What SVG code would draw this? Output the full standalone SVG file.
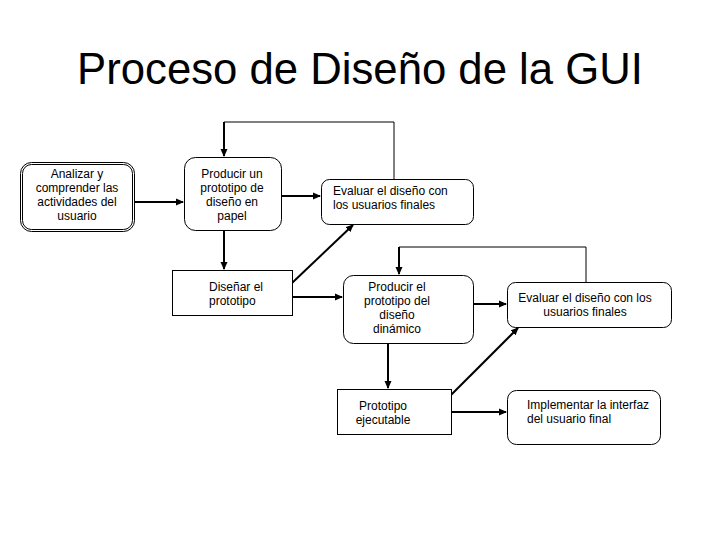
<svg xmlns="http://www.w3.org/2000/svg" width="720" height="540" viewBox="0 0 720 540">
<defs>
<style>
.box{fill:#fff;stroke:#000;stroke-width:1}
.t{font-family:"Liberation Sans",Arial,sans-serif;font-size:12px;fill:#000}
.c{text-anchor:middle}
.title{font-family:"Liberation Sans",Arial,sans-serif;font-size:43.7px;fill:#000;text-anchor:middle}
.a{fill:none;stroke:#000;stroke-width:2;marker-end:url(#ah)}
.thin{fill:none;stroke:#000;stroke-width:1}
</style>
<marker id="ah" viewBox="0 0 8 8" refX="7" refY="4" markerWidth="8" markerHeight="8" markerUnits="userSpaceOnUse" orient="auto">
<path d="M0,0.5 L8,4 L0,7.5 Z" fill="#000"/>
</marker>
</defs>
<rect width="720" height="540" fill="#fff"/>
<text class="title" x="360" y="84">Proceso de Diseño de la GUI</text>

<g id="connectors">
<line class="a" x1="134" y1="202" x2="183" y2="202"/>
<line class="a" x1="281" y1="196" x2="320" y2="196"/>
<polyline class="thin" points="394,179 394,122 224,122 224,130"/>
<line class="a" x1="224" y1="122" x2="224" y2="156"/>
<line class="a" x1="224" y1="230" x2="224" y2="269"/>
<line class="a" x1="292" y1="283" x2="353" y2="225"/>
<line class="a" x1="292" y1="297" x2="342" y2="297"/>
<polyline class="thin" points="586,282 586,247 399,247"/>
<line class="a" x1="399" y1="247" x2="399" y2="274"/>
<line class="a" x1="473" y1="304" x2="506" y2="304"/>
<line class="a" x1="388" y1="343" x2="388" y2="388"/>
<line class="a" x1="451" y1="395" x2="518" y2="328"/>
<line class="a" x1="451" y1="412" x2="506" y2="412"/>
</g>

<g id="n1">
<rect class="box" x="20.5" y="162.5" width="114" height="69" rx="11"/>
<rect class="box" x="22.5" y="164.5" width="110" height="65" rx="9"/>
<text class="t c" x="77" y="178">Analizar y</text>
<text class="t c" x="77" y="192">comprender las</text>
<text class="t c" x="77" y="206">actividades del</text>
<text class="t c" x="77" y="220">usuario</text>
</g>

<g id="n2">
<rect class="box" x="184.5" y="157.5" width="97" height="73" rx="11"/>
<text class="t c" x="232" y="178">Producir un</text>
<text class="t c" x="232" y="192">prototipo de</text>
<text class="t c" x="232" y="206">diseño en</text>
<text class="t c" x="232" y="220">papel</text>
</g>

<g id="n3">
<rect class="box" x="321.5" y="179.5" width="152" height="45" rx="8"/>
<text class="t" x="333" y="195">Evaluar el diseño con</text>
<text class="t" x="333" y="209">los usuarios finales</text>
</g>

<g id="n4">
<rect class="box" x="172.5" y="270.5" width="120" height="45"/>
<text class="t" x="209" y="291">Diseñar el</text>
<text class="t" x="209" y="305">prototipo</text>
</g>

<g id="n5">
<rect class="box" x="343.5" y="275.5" width="130" height="68" rx="10"/>
<text class="t c" x="397" y="291">Producir el</text>
<text class="t c" x="397" y="305">prototipo del</text>
<text class="t c" x="397" y="319">diseño</text>
<text class="t c" x="397" y="333">dinámico</text>
</g>

<g id="n6">
<rect class="box" x="337.5" y="389.5" width="114" height="45"/>
<text class="t c" x="383" y="410">Prototipo</text>
<text class="t c" x="383" y="424">ejecutable</text>
</g>

<g id="n7">
<rect class="box" x="507.5" y="282.5" width="164" height="45" rx="8"/>
<text class="t c" x="585" y="302">Evaluar el diseño con los</text>
<text class="t c" x="585" y="316">usuarios finales</text>
</g>

<g id="n8">
<rect class="box" x="507.5" y="390.5" width="153" height="54" rx="9"/>
<text class="t" x="527" y="409">Implementar la interfaz</text>
<text class="t" x="527" y="423">del usuario final</text>
</g>
</svg>
